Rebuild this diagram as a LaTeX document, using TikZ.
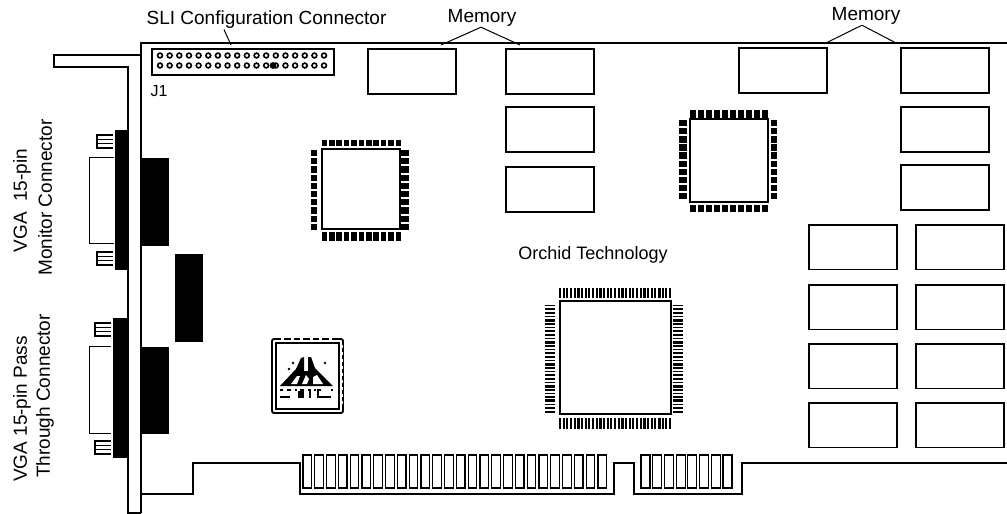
\documentclass[tikz,border=0pt]{standalone}
\usepackage{fontspec}
\setmainfont{Liberation Sans}

\begin{document}
\begin{tikzpicture}[x=1pt, y=-1pt, line width=1.4pt, line join=miter,
    label/.style={inner sep=0pt, font=\fontsize{19}{21}\selectfont},
    labelv/.style={label, rotate=90},
    leader/.style={line width=1pt},
    solid/.style={fill=black},
    thin/.style={line width=1pt}]

\useasboundingbox (0, 0) rectangle (1007, 514);

% bracket
\draw (141, 55) -- (54, 55) -- (54, 67) -- (128, 67) -- (128, 513) -- (141, 513);

% board outline
\draw (1007, 43) -- (141, 43) -- (141, 513);
\draw (141, 494) -- (193, 494) -- (193, 463) -- (300, 463) -- (300, 494) -- (614, 494)
  -- (614, 463) -- (634, 463) -- (634, 494) -- (742, 494) -- (742, 463) -- (1007, 463);

% edge fingers
\foreach \i in {0,...,25}
  \draw[line width=1.2pt] (303 + 11.8*\i, 455) rectangle ++(8.6, 33);
\foreach \i in {0,...,7}
  \draw[line width=1.2pt] (641 + 11.7*\i, 455) rectangle ++(9, 33);

% upper connector
\fill[solid] (115, 130) rectangle (128, 270);
\draw[thin] (114, 157) -- (89, 157) -- (89, 243) -- (114, 243);
\foreach \y in {135, 252} {
  \draw[line width=1.3pt] (113, \y) -- (97, \y) -- (97, \y + 13) -- (113, \y + 13);
  \draw[line width=1.3pt] (97, \y + 4.3) -- (113, \y + 4.3);
  \draw[line width=1.3pt] (97, \y + 8.6) -- (113, \y + 8.6);
}

% lower connector
\fill[solid] (113, 318) rectangle (128, 458);
\draw[thin] (111, 346) -- (89, 346) -- (89, 433) -- (111, 433);
\foreach \y in {323, 441} {
  \draw[line width=1.3pt] (111, \y) -- (95, \y) -- (95, \y + 13) -- (111, \y + 13);
  \draw[line width=1.3pt] (95, \y + 4.3) -- (111, \y + 4.3);
  \draw[line width=1.3pt] (95, \y + 8.6) -- (111, \y + 8.6);
}

% black blocks
\fill[solid] (142, 158) rectangle (169, 246);
\fill[solid] (175, 254) rectangle (203, 342);
\fill[solid] (142, 347) rectangle (169, 434);

% SLI header
\draw (152, 49) rectangle (334, 75);
\foreach \i in {0,...,17} {
  \draw[line width=1.6pt] (160 + 9.65*\i, 55.5) circle (2.4);
  \draw[line width=1.6pt] (160 + 9.65*\i, 65.5) circle (2.4);
}
\fill[solid] (273, 65.5) circle (3.4);
\node[label, font=\fontsize{16}{18}\selectfont] (jone) at (159, 91) {J1};

% memory
\foreach \xa/\ya in {368/49, 506/49, 506/107, 506/167, 739/48, 901/48, 901/107, 901/165}
  \draw (\xa, \ya) rectangle ++(88, 45);
\foreach \xa in {809, 916}
  \foreach \ya in {225, 285, 344, 403}
    \draw (\xa, \ya) rectangle ++(88, 44.5);

% left chip
\draw (322, 149) rectangle (400, 229);
\foreach \i in {0,...,10} {
  \fill[solid] (321.5 + 7.4*\i, 140) rectangle ++(5.6, 6);
  \fill[solid] (321.5 + 7.4*\i, 232) rectangle ++(5.6, 9);
}
\foreach \i in {0,...,9} {
  \fill[solid] (311, 150 + 8.2*\i) rectangle ++(6, 6.2);
  \fill[solid] (401, 150 + 8.2*\i) rectangle ++(8, 6.2);
}

% right chip
\draw (690, 119) rectangle (768, 202);
\foreach \i in {0,...,9} {
  \fill[solid] (690 + 8*\i, 110) rectangle ++(6.2, 9);
  \fill[solid] (690 + 8*\i, 205) rectangle ++(6.2, 7);
}
\foreach \i in {0,...,9} {
  \fill[solid] (679, 120 + 8.1*\i) rectangle ++(8, 6.3);
  \fill[solid] (771, 120 + 8.1*\i) rectangle ++(6, 6.3);
}

% big chip
\draw (560, 301) rectangle (671, 414);
\foreach \i in {0,...,30} {
  \fill[solid] (559 + 3.67*\i, 288) rectangle ++(1.9, 10);
  \fill[solid] (559 + 3.67*\i, 418) rectangle ++(1.9, 11);
}
\foreach \i in {0,...,29} {
  \fill[solid] (545, 304.5 + 3.67*\i) rectangle ++(10, 1.9);
  \fill[solid] (673, 304.5 + 3.67*\i) rectangle ++(10, 1.9);
}
\foreach \i in {5, 11, 17, 23, 27} {
  \fill[solid] (559 + 3.67*\i, 288) rectangle ++(3, 10);
  \fill[solid] (559 + 3.67*\i, 418) rectangle ++(3, 11);
}
\foreach \i in {4, 10, 16, 22, 26} {
  \fill[solid] (545, 304 + 3.67*\i) rectangle ++(10, 3);
  \fill[solid] (673, 304 + 3.67*\i) rectangle ++(10, 3);
}

% logo chip
\draw[rounded corners=2pt, line width=1.8pt] (272, 339) rectangle (343, 413);
\draw[line width=1.2pt] (276, 343) rectangle (339, 409);
\foreach \i in {0,...,5}
  \fill[white] (281 + 9.5*\i, 338) rectangle ++(3, 2.5);
\foreach \i in {0,...,8}
  \fill[white] (340.5, 345 + 7*\i) rectangle ++(2, 3);
\fill[solid] (280, 386) -- (296, 369) -- (301, 358) -- (304, 357) -- (304, 371) -- (308, 371) -- (308, 357)
  -- (311, 357) -- (315, 368) -- (333, 386) -- cycle;
\fill[white] (291, 384) -- (297, 376) -- (300, 376) -- (297, 384) -- cycle;
\fill[white] (302, 384) -- (306, 375) -- (309, 379) -- (307, 384) -- cycle;
\fill[white] (313, 384) -- (313, 377) -- (317, 375) -- (323, 384) -- cycle;
\fill[solid] (325, 363) circle (1.3);
\fill[solid] (293, 363) circle (1.3);
\fill[solid] (289, 369) circle (1.3);
\foreach \xa/\xb in {280/283, 287/291, 295/297, 300/304, 308/310, 314/316, 319/321, 331/333}
  \fill[solid] (\xa, 389) rectangle (\xb, 391);
\fill[solid] (280, 396) rectangle (290, 398);
\fill[solid] (298, 391) rectangle (304, 398);
\fill[solid] (309, 389) rectangle (311, 398);
\fill[solid] (317, 389) rectangle (319, 398);
\fill[solid] (319, 396) rectangle (331, 398);

% labels
\node[label] (sli) at (266.5, 20) {SLI Configuration Connector};
\node[label] (memleft) at (482, 18) {Memory};
\node[label] (memright) at (866, 16) {Memory};
\node[label, font=\fontsize{18}{20}\selectfont] (orchid) at (593, 255) {Orchid Technology};
\node[labelv] (vgamon) at (22, 200.5) {VGA\ \ 15-pin};
\node[labelv] (mon) at (45, 197.5) {Monitor Connector};
\node[labelv] (vgapass) at (22, 409) {VGA 15-pin Pass};
\node[labelv] (through) at (45, 396) {Through Connector};

% leaders
\coordinate (slitip) at (231, 45);
\coordinate (mema) at (441, 45);
\coordinate (memb) at (520, 45);
\coordinate (memc) at (826, 43);
\coordinate (memd) at (896, 43);
\draw[leader] (sli.south) ++(-42.5, 0) -- (slitip);
\draw[leader] (memleft.south) ++(-1, 0) coordinate (memtop) -- (mema);
\draw[leader] (memtop) -- (memb);
\draw[leader] (memright.south) ++(-4, 0) coordinate (memtopb) -- (memc);
\draw[leader] (memtopb) -- (memd);

\end{tikzpicture}
\end{document}
